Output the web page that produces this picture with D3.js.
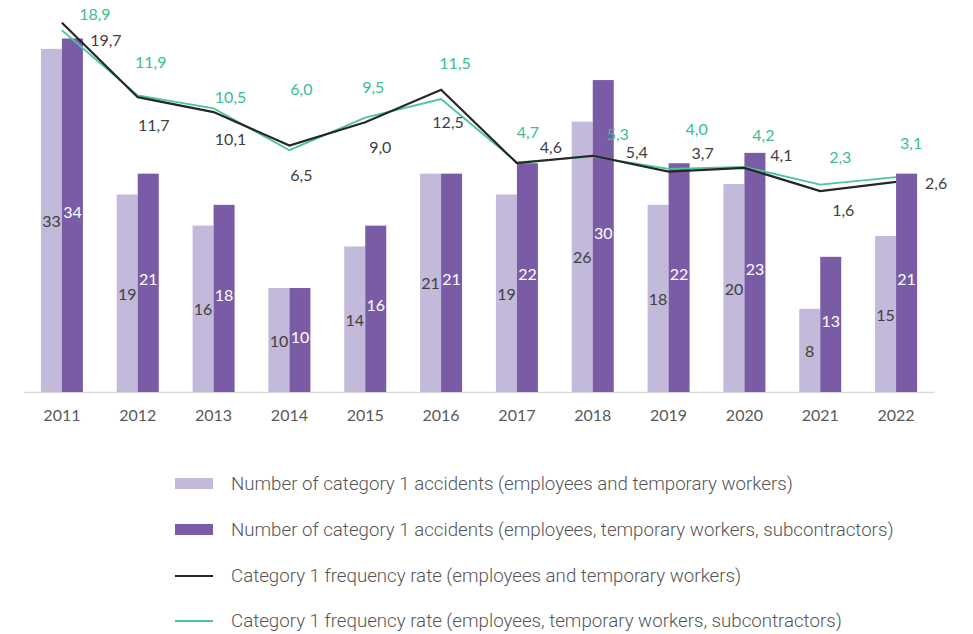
<!DOCTYPE html>
<html>
<head>
<meta charset="utf-8">
<script src="https://cdn.jsdelivr.net/npm/d3@7"></script>
<style>
  html, body { margin: 0; padding: 0; background: #fff; }
  svg { display: block; }
</style>
</head>
<body>
<svg id="chart" width="973" height="634"></svg>
<script>
// Years on the category axis
const years = ["2011","2012","2013","2014","2015","2016","2017","2018","2019","2020","2021","2022"];

// Number of category 1 accidents
const accidentsEmp = [33, 19, 16, 10, 14, 21, 19, 26, 18, 20, 8, 15];
const accidentsAll = [34, 21, 18, 10, 16, 21, 22, 30, 22, 23, 13, 21];

// Category 1 frequency rates
const rateEmp = [19.7, 11.7, 10.1, 6.5, 9.0, 12.5, 4.6, 5.4, 3.7, 4.1, 1.6, 2.6];
const rateAll = [18.9, 11.9, 10.5, 6.0, 9.5, 11.5, 4.7, 5.3, 4.0, 4.2, 2.3, 3.1];

// Hand-placed offsets of the rate labels from their points [dx, dy]
const rateEmpLabelShift = [[44,17],[16,27],[17,26],[12,29],[15,24],[7,32],[34,-17],[44,-4],[34,-19],[37,-13],[23,18],[40,1]];
const rateAllLabelShift = [[33,-17],[13,-34],[17,-12],[12,-62],[8,-31],[14,-37],[11,-31],[25,-23],[28,-40],[19,-32],[20,-28],[15,-35]];

const legendLabels = [
  "Number of category 1 accidents (employees and temporary workers)",
  "Number of category 1 accidents (employees, temporary workers, subcontractors)",
  "Category 1 frequency rate (employees and temporary workers)",
  "Category 1 frequency rate (employees, temporary workers, subcontractors)"
];

const colLight = "#c3b9da";
const colDark = "#7a5ca6";
const colBlack = "#262626";
const colTeal = "#4cc4a2";
const colTealText = "#3dbb94";
const numFont = "Lato, 'Open Sans', sans-serif";

const fmt = v => d3.format(".1f")(v).replace(".", ",");

const svg = d3.select("#chart");

const x = d3.scaleBand().domain(years).range([24, 934]).paddingInner(0).paddingOuter(0);
const barW = 21;
const yBar = d3.scaleLinear().domain([0, 37.7]).range([392, 0]);
const yRate = d3.scaleLinear().domain([-20, 22.15]).range([392, 0]);
const cx = d => x(d) + x.bandwidth() / 2;

// Category axis
const xAxis = d3.axisBottom(x).tickSize(0).tickPadding(18);
const gx = svg.append("g").attr("transform", "translate(0,392)").call(xAxis);
gx.select(".domain").attr("stroke", "#d9d9d9").attr("stroke-width", 1.5);
gx.selectAll("text")
  .attr("font-family", numFont).attr("font-size", 16).attr("fill", "#595959");

// Bars
const groups = svg.append("g").selectAll("g").data(years).join("g");
groups.append("rect")
  .attr("x", d => cx(d) - barW)
  .attr("y", (d, i) => yBar(accidentsEmp[i]))
  .attr("width", barW)
  .attr("height", (d, i) => yBar(0) - yBar(accidentsEmp[i]))
  .attr("fill", colLight);
groups.append("rect")
  .attr("x", d => cx(d))
  .attr("y", (d, i) => yBar(accidentsAll[i]))
  .attr("width", barW)
  .attr("height", (d, i) => yBar(0) - yBar(accidentsAll[i]))
  .attr("fill", colDark);

// Bar value labels, centred in each bar
groups.append("text")
  .attr("x", d => cx(d) - barW / 2)
  .attr("y", (d, i) => (yBar(accidentsEmp[i]) + yBar(0)) / 2)
  .attr("text-anchor", "middle").attr("dominant-baseline", "central")
  .attr("font-family", numFont).attr("font-size", 16).attr("fill", "#404040")
  .text((d, i) => accidentsEmp[i]);
groups.append("text")
  .attr("x", d => cx(d) + barW / 2)
  .attr("y", (d, i) => (yBar(accidentsAll[i]) + yBar(0)) / 2 - 4)
  .attr("text-anchor", "middle").attr("dominant-baseline", "central")
  .attr("font-family", numFont).attr("font-size", 16).attr("fill", "#ffffff")
  .text((d, i) => accidentsAll[i]);

// Frequency rate lines
const line = vals => d3.line().x((d, i) => cx(years[i])).y(d => yRate(d))(vals);
svg.append("path").attr("d", line(rateAll))
  .attr("fill", "none").attr("stroke", colTeal).attr("stroke-width", 1.8);
svg.append("path").attr("d", line(rateEmp))
  .attr("fill", "none").attr("stroke", colBlack).attr("stroke-width", 2.2);

// Rate labels
svg.append("g").selectAll("text").data(rateEmp).join("text")
  .attr("x", (d, i) => cx(years[i]) + rateEmpLabelShift[i][0])
  .attr("y", (d, i) => yRate(d) + rateEmpLabelShift[i][1])
  .attr("text-anchor", "middle").attr("dominant-baseline", "central")
  .attr("font-family", numFont).attr("font-size", 16).attr("fill", "#404040")
  .text(fmt);
svg.append("g").selectAll("text").data(rateAll).join("text")
  .attr("x", (d, i) => cx(years[i]) + rateAllLabelShift[i][0])
  .attr("y", (d, i) => yRate(d) + rateAllLabelShift[i][1])
  .attr("text-anchor", "middle").attr("dominant-baseline", "central")
  .attr("font-family", numFont).attr("font-size", 16).attr("fill", colTealText)
  .text(fmt);

// Legend
const legendY = [484, 530, 576, 621];
const lg = svg.append("g").selectAll("g").data(legendLabels).join("g")
  .attr("transform", (d, i) => `translate(175,${legendY[i]})`);
lg.each(function(d, i) {
  const g = d3.select(this);
  if (i === 0 || i === 1) {
    g.append("rect").attr("x", 0).attr("y", -6).attr("width", 38).attr("height", 11)
      .attr("fill", i === 0 ? colLight : colDark);
  } else {
    g.append("line").attr("x1", 0).attr("x2", 38).attr("y1", 0).attr("y2", 0)
      .attr("stroke", i === 2 ? colBlack : colTeal).attr("stroke-width", 2);
  }
});
lg.append("text")
  .attr("x", 56).attr("y", 0)
  .attr("dominant-baseline", "central")
  .attr("font-family", "Roboto, sans-serif").attr("font-weight", 300)
  .attr("font-size", 18.7).attr("fill", "#555555")
  .text(d => d);
</script>
</body>
</html>
